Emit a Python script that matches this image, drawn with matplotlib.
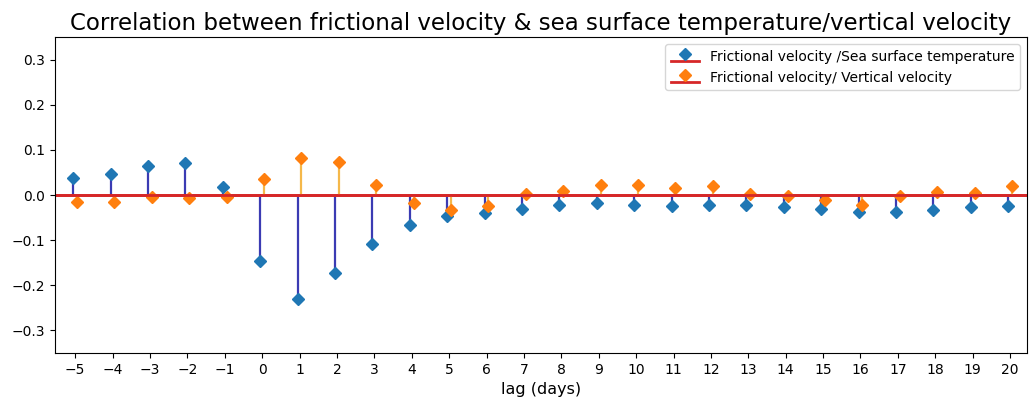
import matplotlib
import matplotlib.pyplot as plt
import numpy as np

matplotlib.use('Agg')

# lag in days
lags = list(range(-5, 21))

# correlation: frictional velocity vs sea surface temperature
corr_sst = [0.038, 0.047, 0.064, 0.070, 0.018, -0.147, -0.231, -0.173, -0.108,
            -0.067, -0.047, -0.039, -0.032, -0.021, -0.017, -0.021, -0.024,
            -0.021, -0.021, -0.027, -0.030, -0.038, -0.037, -0.034, -0.027, -0.024]

# correlation: frictional velocity vs vertical velocity
corr_w = [-0.015, -0.015, -0.004, -0.007, -0.005, 0.035, 0.083, 0.073, 0.022,
          -0.018, -0.034, -0.024, 0.002, 0.009, 0.022, 0.022, 0.016,
          0.019, 0.003, -0.003, -0.010, -0.021, -0.001, 0.007, 0.005, 0.019]

label_sst = 'Frictional velocity /Sea surface temperature'
label_w = 'Frictional velocity/ Vertical velocity'

fig = plt.figure(figsize=(10.3, 4.03), dpi=100)
ax = fig.add_axes([0.053, 0.124, 0.944, 0.784])

x = np.array(lags)
xlim = (-5.55, 20.45)

# blue series, shifted slightly left of each tick
m1, s1, b1 = ax.stem(x - 0.05, corr_sst, linefmt='-', markerfmt='D',
                     basefmt='-', label=label_sst)
plt.setp(s1, color='#3b3bb3', linewidth=1.6)
plt.setp(m1, color='#1f77b4', markersize=6.5)
plt.setp(b1, color='#d62728', linewidth=2)

# orange series, shifted slightly right
m2, s2, b2 = ax.stem(x + 0.05, corr_w, linefmt='-', markerfmt='D',
                     basefmt='-', label=label_w)
plt.setp(s2, color='#f5b84a', linewidth=1.6)
plt.setp(m2, color='#ff7f0e', markersize=6.5)
plt.setp(b2, color='#d62728', linewidth=2)

# baselines run across the whole axes
for b in (b1, b2):
    b.set_xdata(list(xlim))

ax.set_xlim(*xlim)
ax.set_ylim(-0.35, 0.35)
ax.set_xticks(lags)
ax.set_yticks([-0.3, -0.2, -0.1, 0.0, 0.1, 0.2, 0.3])
ax.tick_params(labelsize=10)

ax.set_xlabel('lag (days)', fontsize=11.5)
ax.set_title('Correlation between frictional velocity & sea surface temperature/vertical velocity',
             fontsize=16.5, pad=5)
ax.legend(loc='upper right', fontsize=10)

plt.savefig('out.png', dpi=100)
plt.close()
